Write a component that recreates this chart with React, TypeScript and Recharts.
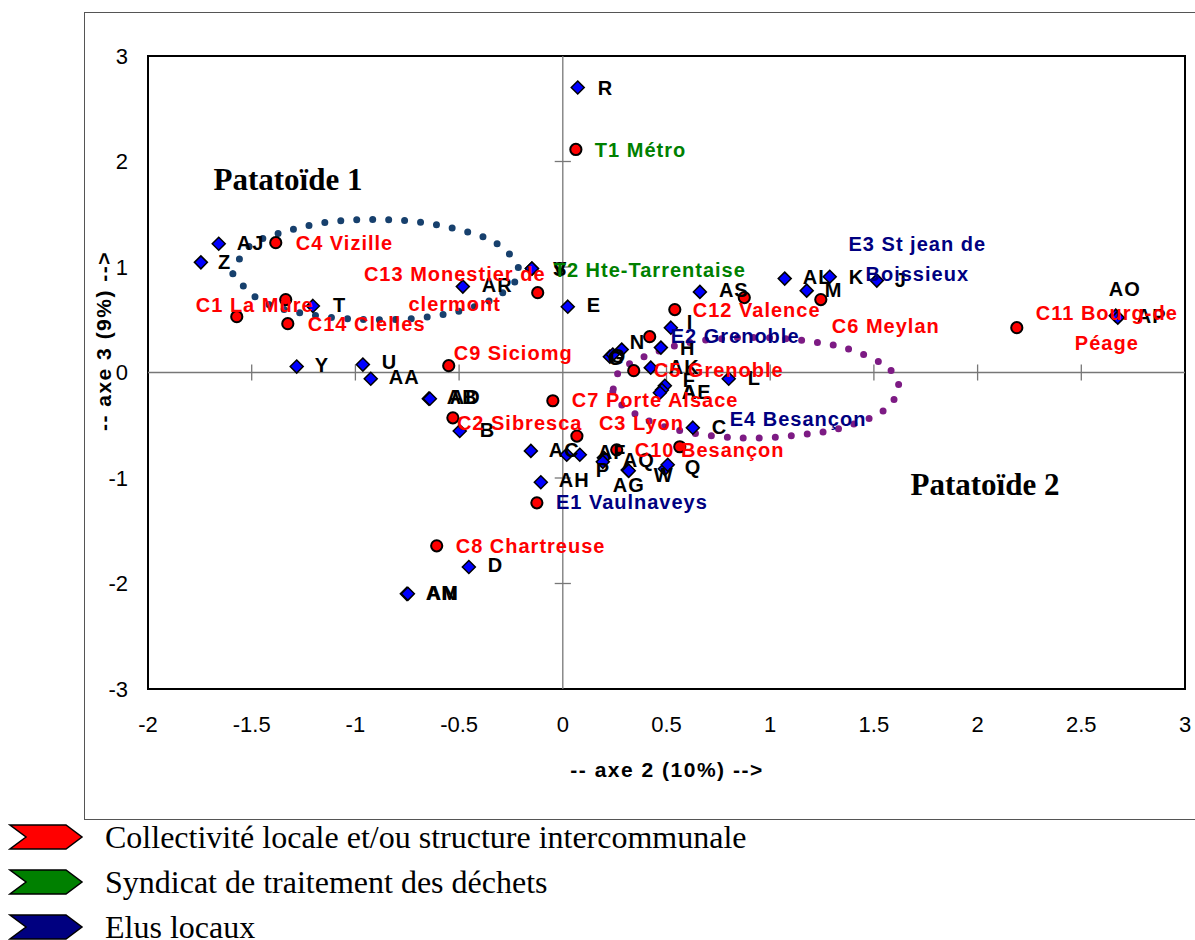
import React from "react";
import { ScatterChart, Scatter, XAxis, YAxis, ReferenceLine, ReferenceArea } from "recharts";

const SANS = "'Liberation Sans', Arial, sans-serif";
const SERIF = "'Liberation Serif', 'Times New Roman', serif";

const xTicks = [-2, -1.5, -1, -0.5, 0, 0.5, 1, 1.5, 2, 2.5, 3];
const yTicks = [-3, -2, -1, 0, 1, 2, 3];

// individus (losanges bleus)
const indNames = ["R", "AJ", "Z", "T", "AR", "S", "V", "E", "AS", "AL", "M", "K", "J", "AO", "AP", "I", "H", "AK", "F", "A", "AE", "L", "C", "AB", "AD", "B", "Y", "U", "AA", "AC", "X", "AI", "AF", "P", "AQ", "AG", "W", "Q", "AH", "D", "AM", "AN", "G", "O", "N"];
const indAxe2 = [0.072, -1.659, -1.745, -1.205, -0.482, -0.149, -0.149, 0.024, 0.661, 1.07, 1.176, 1.287, 1.514, 2.666, 2.676, 0.521, 0.473, 0.424, 0.492, 0.478, 0.468, 0.8, 0.627, -0.646, -0.641, -0.497, -1.283, -0.964, -0.926, -0.154, 0.019, 0.082, 0.198, 0.193, 0.313, 0.318, 0.492, 0.506, -0.106, -0.453, -0.752, -0.747, 0.227, 0.241, 0.284];
const indAxe3 = [2.702, 1.22, 1.044, 0.631, 0.814, 0.985, 0.985, 0.624, 0.764, 0.89, 0.776, 0.908, 0.871, 0.539, 0.52, 0.425, 0.236, 0.046, -0.126, -0.165, -0.192, -0.059, -0.523, -0.248, -0.248, -0.554, 0.056, 0.075, -0.059, -0.743, -0.78, -0.78, -0.809, -0.847, -0.923, -0.932, -0.913, -0.875, -1.04, -1.843, -2.098, -2.098, 0.15, 0.17, 0.217];

// acteurs (ronds rouges)
const actNames = ["C1 La Mure", "C13 Monestier de\nclermont", "C4 Vizille", "C14 Clelles", "T2 Hte-Tarrentaise", "C9 Siciomg", "T1 Métro", "C12 Valence", "E3 St jean de\nBoissieux", "C6 Meylan", "E2 Grenoble", "C5 Grenoble", "C7 Porte Alsace", "C2 Sibresca", "C3 Lyon", "C10 Besançon", "E4 Besançon", "E1 Vaulnaveys", "C8 Chartreuse", "C11 Bourg-de\nPéage"];
const actAxe2 = [-1.572, -1.336, -1.384, -1.326, -0.121, -0.55, 0.063, 0.54, 0.875, 1.244, 0.419, 0.342, -0.048, -0.53, 0.068, 0.26, 0.564, -0.125, -0.608, 2.189];
const actAxe3 = [0.529, 0.691, 1.231, 0.463, 0.757, 0.065, 2.114, 0.596, 0.71, 0.691, 0.34, 0.017, -0.268, -0.43, -0.603, -0.733, -0.704, -1.235, -1.643, 0.425];

// contours des patatoïdes
const pat1Axe2 = [-1.591, -1.519, -1.374, -1.148, -0.911, -0.675, -0.448, -0.304, -0.212, -0.27, -0.41, -0.641, -0.873, -1.109, -1.34, -1.485, -1.591];
const pat1Axe3 = [0.937, 1.184, 1.317, 1.421, 1.45, 1.421, 1.326, 1.203, 0.976, 0.786, 0.634, 0.529, 0.501, 0.52, 0.596, 0.719, 0.937];
const pat2Axe2 = [0.241, 0.284, 0.347, 0.492, 0.723, 0.96, 1.191, 1.345, 1.495, 1.577, 1.62, 1.591, 1.533, 1.389, 1.234, 1.003, 0.767, 0.608, 0.453, 0.313, 0.26, 0.241];
const pat2Axe3 = [-0.182, -0.306, -0.391, -0.515, -0.6, -0.619, -0.581, -0.524, -0.42, -0.306, -0.144, -0.002, 0.093, 0.216, 0.283, 0.33, 0.321, 0.283, 0.197, 0.074, -0.03, -0.182];

const legendItems = ["Collectivité locale et/ou structure intercommunale", "Syndicat de traitement des déchets", "Elus locaux"];
const legendColors = ["#ff0000", "#008000", "#000080"];

// décalage des étiquettes (px) : [dx, dy]
const indLabelPos: Record<string, number[]> = {
  R: [20, 0], AJ: [18, -1], Z: [17, -1], T: [20, -1], AR: [19, -2], S: [21, 0], V: [21, 0], E: [19, -2],
  AS: [19, -2], AL: [18, -2], M: [18, -1], K: [19, 0], J: [18, -1], AO: [-7, -27], AP: [19, -2], I: [16, -6],
  H: [19, 0], AK: [18, -1], F: [18, -6], A: [20, 2], AE: [22, -1], L: [19, -1], C: [19, -1], AB: [18, -2],
  AD: [20, -2], B: [20, -1], Y: [18, -2], U: [19, -3], AA: [18, -2], AC: [18, -1], AF: [-6, -6], P: [-7, 8],
  AQ: [-5, -10], AG: [-16, 14], W: [-11, 6], Q: [17, 2], AH: [18, -2], D: [19, -2], AM: [19, -1], AN: [19, -1],
  G: [-2, 1], O: [-3, 1], N: [8, -8],
};
// [dx, dy, centré?]
const actLabelPos: Record<string, number[]> = {
  "C1 La Mure": [-41, -12, 0], "C13 Monestier de\nclermont": [169, -26, 1], "C4 Vizille": [20, 0, 0],
  "C14 Clelles": [20, 0, 0], "T2 Hte-Tarrentaise": [16, -23, 0], "C9 Siciomg": [5, -13, 0], "T1 Métro": [19, 0, 0],
  "C12 Valence": [18, 0, 0], "E3 St jean de\nBoissieux": [173, -54, 1], "C6 Meylan": [11, 26, 0],
  "E2 Grenoble": [21, -1, 0], "C5 Grenoble": [20, -1, 0], "C7 Porte Alsace": [19, -1, 0], "C2 Sibresca": [4, 5, 0],
  "C3 Lyon": [22, -13, 0], "C10 Besançon": [18, 0, 0], "E4 Besançon": [50, -28, 0], "E1 Vaulnaveys": [19, -1, 0],
  "C8 Chartreuse": [19, 0, 0], "C11 Bourg-de\nPéage": [90, -15, 1],
};

const individus = indNames.map((name, i) => ({ name, x: indAxe2[i], y: indAxe3[i] }));
const acteurs = actNames.map((name, i) => ({ name, x: actAxe2[i], y: actAxe3[i] }));
const pat1 = pat1Axe2.map((x, i) => ({ x, y: pat1Axe3[i] }));
const pat2 = pat2Axe2.map((x, i) => ({ x, y: pat2Axe3[i] }));

const labelColor = (name: string) => (name[0] === "T" ? "#008000" : name[0] === "E" ? "#000080" : "#ff0000");

const Diamond = (p: any) => {
  const { cx, cy } = p;
  const s = 6.5;
  return <path d={`M${cx},${cy - s}L${cx + s},${cy}L${cx},${cy + s}L${cx - s},${cy}Z`} fill="#0000ff" stroke="#000" strokeWidth={1.5} />;
};

const RedDot = (p: any) => <circle cx={p.cx} cy={p.cy} r={5.6} fill="#ff0000" stroke="#000" strokeWidth={2} />;

const IndLabel = (p: any) => {
  const name = p.payload.name;
  const off = indLabelPos[name];
  if (!off) return <g />;
  return (
    <text x={p.cx + off[0]} y={p.cy + off[1]} dy="0.36em" fontFamily={SANS} fontSize={20} fontWeight="bold" letterSpacing={1} fill="#000">
      {name}
    </text>
  );
};

const ActLabel = (p: any) => {
  const name: string = p.payload.name;
  const off = actLabelPos[name];
  const lines = name.split("\n");
  return (
    <text
      x={p.cx + off[0]}
      y={p.cy + off[1]}
      textAnchor={off[2] ? "middle" : "start"}
      fontFamily={SANS}
      fontSize={20}
      fontWeight="bold"
      letterSpacing={1}
      fill={labelColor(name)}
    >
      {lines.map((l, i) => (
        <tspan key={i} x={p.cx + off[0]} dy={i === 0 ? "0.36em" : 30}>
          {l}
        </tspan>
      ))}
    </text>
  );
};

const Nothing = () => <g />;

const Chevron = ({ color }: { color: string }) => (
  <svg width={76} height={28} style={{ display: "block" }}>
    <path d="M2,2 L58,2 L74,14 L58,26 L2,26 L18,14 Z" fill={color} stroke="#000" strokeWidth={1.5} />
  </svg>
);

export default function App() {
  return (
    <div style={{ position: "absolute", left: 0, top: 0, width: 1195, height: 940, background: "#fff", overflow: "hidden" }}>
      <div style={{ position: "absolute", left: 84, top: 12, width: 1130, height: 806, border: "1.5px solid #555" }} />
      <div style={{ position: "absolute", left: 0, top: 0 }}>
        <ScatterChart width={1195} height={830} margin={{ top: 56, right: 10, bottom: 101, left: 88 }}>
          <XAxis
            type="number"
            dataKey="x"
            domain={[-2, 3]}
            ticks={xTicks}
            interval={0}
            allowDataOverflow
            axisLine={false}
            tickLine={false}
            tickSize={0}
            tickMargin={27}
            height={40}
            tick={{ fontSize: 22, fill: "#000", fontFamily: SANS }}
          />
          <YAxis
            type="number"
            dataKey="y"
            domain={[-3, 3]}
            ticks={yTicks}
            interval={0}
            allowDataOverflow
            axisLine={false}
            tickLine={false}
            tickSize={0}
            tickMargin={20}
            width={60}
            tick={{ fontSize: 22, fill: "#000", fontFamily: SANS }}
          />
          <ReferenceLine x={0} stroke="#777" strokeWidth={1.3} />
          <ReferenceLine y={0} stroke="#777" strokeWidth={1.3} />
          {xTicks
            .filter((v) => v !== 0 && v > -2 && v < 3)
            .map((v) => (
              <ReferenceLine key={"tx" + v} segment={[{ x: v, y: -0.076 }, { x: v, y: 0.076 }]} stroke="#777" strokeWidth={1.3} />
            ))}
          {yTicks
            .filter((v) => v !== 0 && v > -3 && v < 3)
            .map((v) => (
              <ReferenceLine key={"ty" + v} segment={[{ x: -0.039, y: v }, { x: 0.039, y: v }]} stroke="#777" strokeWidth={1.3} />
            ))}
          <ReferenceArea x1={-2} x2={3} y1={-3} y2={3} fill="none" stroke="#000" strokeWidth={2} />
          <Scatter
            name="Patatoïde 1"
            data={pat1}
            shape={Nothing}
            line={{ stroke: "#17406d", strokeWidth: 7, strokeDasharray: "0 16", strokeLinecap: "round", fill: "none" }}
            lineJointType="natural"
            isAnimationActive={false}
          />
          <Scatter
            name="Patatoïde 2"
            data={pat2}
            shape={Nothing}
            line={{ stroke: "#7d1b84", strokeWidth: 7, strokeDasharray: "0 16", strokeLinecap: "round", fill: "none" }}
            lineJointType="natural"
            isAnimationActive={false}
          />
          <Scatter name="individus" data={individus} shape={Diamond} isAnimationActive={false} />
          <Scatter name="acteurs" data={acteurs} shape={RedDot} isAnimationActive={false} />
          <Scatter name="étiquettes individus" data={individus} shape={IndLabel} isAnimationActive={false} />
          <Scatter name="étiquettes acteurs" data={acteurs} shape={ActLabel} isAnimationActive={false} />
        </ScatterChart>
      </div>
      <div style={{ position: "absolute", left: 467, top: 757, width: 400, textAlign: "center", fontFamily: SANS, fontSize: 21, fontWeight: "bold", letterSpacing: 1.5, lineHeight: "26px" }}>
        -- axe 2 (10%) --&gt;
      </div>
      <div style={{ position: "absolute", left: -96, top: 328, width: 400, height: 26, textAlign: "center", fontFamily: SANS, fontSize: 21, fontWeight: "bold", letterSpacing: 1.5, lineHeight: "26px", transform: "rotate(-90deg)" }}>
        -- axe 3 (9%) --&gt;
      </div>
      <div style={{ position: "absolute", left: 138, top: 161, width: 300, textAlign: "center", fontFamily: SERIF, fontSize: 31, fontWeight: "bold", lineHeight: "38px" }}>
        Patatoïde 1
      </div>
      <div style={{ position: "absolute", left: 835, top: 466, width: 300, textAlign: "center", fontFamily: SERIF, fontSize: 31, fontWeight: "bold", lineHeight: "38px" }}>
        Patatoïde 2
      </div>
      {legendItems.map((t, i) => (
        <div key={t} style={{ position: "absolute", left: 8, top: 822 + i * 45, height: 30, display: "flex", alignItems: "center" }}>
          <Chevron color={legendColors[i]} />
          <span style={{ marginLeft: 21, fontFamily: SERIF, fontSize: 32, lineHeight: "30px", color: "#000", whiteSpace: "nowrap" }}>{t}</span>
        </div>
      ))}
    </div>
  );
}
